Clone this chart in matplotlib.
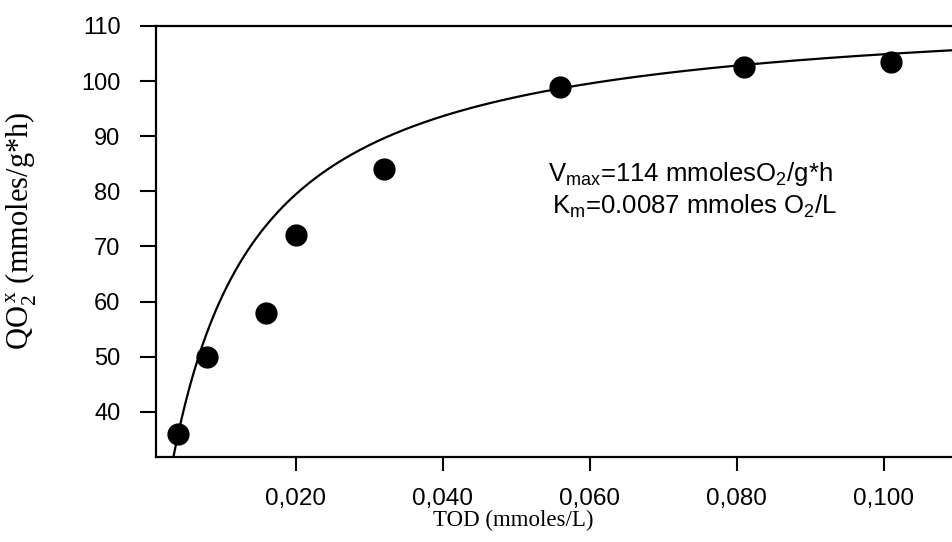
import matplotlib
matplotlib.use('Agg')
import matplotlib.pyplot as plt
import numpy as np

# measured points
tod = [0.004, 0.008, 0.016, 0.020, 0.032, 0.056, 0.081, 0.101]
qo2x = [36, 50, 58, 72, 84, 99, 102.5, 103.5]

# fit parameters as printed on the chart
vmax = 114
km = 0.0087

x_ticks = [0.020, 0.040, 0.060, 0.080, 0.100]
x_tick_labels = ['0,020', '0,040', '0,060', '0,080', '0,100']
y_ticks = [40, 50, 60, 70, 80, 90, 100, 110]

plt.rcParams['font.family'] = 'Liberation Sans'
plt.rcParams['mathtext.fontset'] = 'custom'
plt.rcParams['mathtext.rm'] = 'Liberation Serif'
plt.rcParams['mathtext.sf'] = 'Liberation Sans'

W, H = 952, 542
fig = plt.figure(figsize=(W / 100, H / 100), dpi=100)
ax = fig.add_axes([156 / W, 1 - 457 / H, (994 - 156) / W, (457 - 26) / H])

xs = np.linspace(0.001, 0.115, 400)
ax.plot(xs, vmax * xs / (km + xs), color='black', lw=1.6)
ax.plot(tod, qo2x, 'o', color='black', ms=15)

ax.set_xlim(0.001, 0.115)
ax.set_ylim(31.8, 110)
ax.set_xticks(x_ticks)
ax.set_xticklabels(x_tick_labels)
ax.set_yticks(y_ticks)

ax.tick_params(axis='x', direction='out', length=10, width=1.5, labelsize=17.5, pad=12)
ax.tick_params(axis='y', direction='out', length=11.5, width=1.5, labelsize=17, pad=14)
for side in ['left', 'bottom', 'top']:
    ax.spines[side].set_linewidth(1.6)
ax.spines['right'].set_visible(False)

# pixel -> axes fraction
to_ax = lambda px, py: ((px - 156) / 838, (457 - py) / 431)

ax.set_xlabel('TOD (mmoles/L)', family='Liberation Serif', fontsize=16.5, va='baseline')
ax.xaxis.set_label_coords(*to_ax(513, 526))

ax.set_ylabel(r'QO$_2^{\,\mathrm{x}}$ (mmoles/g*h)', family='Liberation Serif', fontsize=22)
ax.yaxis.set_label_coords(*to_ax(39, 231))

ax.text(*to_ax(833, 173.5), r'V$_{\mathsf{max}}$=114 mmolesO$_\mathsf{2}$/g*h', fontsize=18.5,
        ha='right', va='center', transform=ax.transAxes)
ax.text(*to_ax(837, 206.5), r'K$_{\mathsf{m}}$=0.0087 mmoles O$_\mathsf{2}$/L', fontsize=18.5,
        ha='right', va='center', transform=ax.transAxes)

fig.savefig('out.png', dpi=100)
